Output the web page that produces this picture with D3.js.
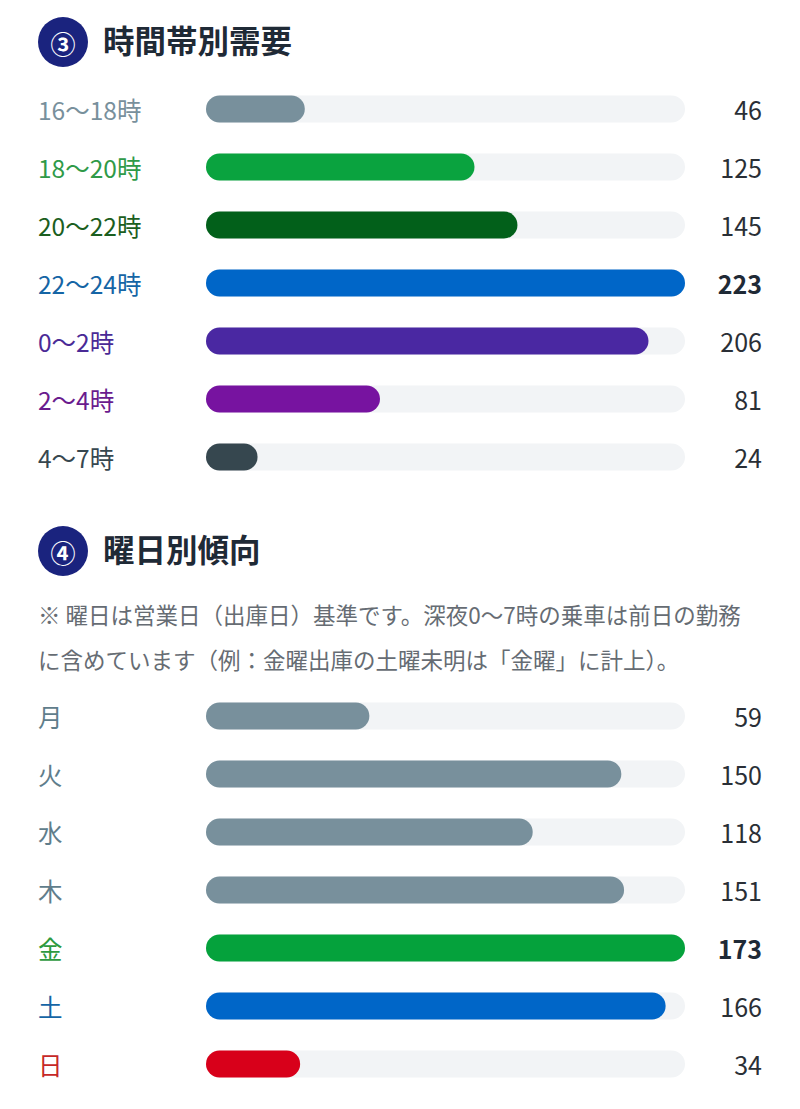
<!DOCTYPE html>
<html lang="ja">
<head>
<meta charset="utf-8">
<script src="https://cdn.jsdelivr.net/npm/d3@7"></script>
<style>
  html, body { margin: 0; padding: 0; background: #fff; }
  svg { display: block; font-family: "Noto Sans CJK JP", "Noto Sans", sans-serif; }
</style>
</head>
<body>
<svg id="chart" width="800" height="1109"></svg>
<script>
// ③ 時間帯別需要
const hourLabels = ["16〜18時", "18〜20時", "20〜22時", "22〜24時", "0〜2時", "2〜4時", "4〜7時"];
const hourValues = [46, 125, 145, 223, 206, 81, 24];
const hourBarColors = ["#78909c", "#0aa33f", "#02601a", "#0066c8", "#4a28a2", "#7713a0", "#36474f"];
const hourLabelColors = ["#78909c", "#2f9a48", "#1b5e20", "#1565a5", "#4a2a96", "#6a1b8e", "#37474f"];

// ④ 曜日別傾向
const dayLabels = ["月", "火", "水", "木", "金", "土", "日"];
const dayValues = [59, 150, 118, 151, 173, 166, 34];
const dayBarColors = ["#78909c", "#78909c", "#78909c", "#78909c", "#05a23c", "#0066c8", "#d8001a"];
const dayLabelColors = ["#607d8b", "#607d8b", "#607d8b", "#607d8b", "#2e9a40", "#1565a5", "#c62828"];

const noteLines = [
  "※ 曜日は営業日（出庫日）基準です。深夜0〜7時の乗車は前日の勤務",
  "に含めています（例：金曜出庫の土曜未明は「金曜」に計上）。"
];

const svg = d3.select("#chart");
const track = { x0: 206, x1: 685, h: 27 };
const rowStep = 58;

function heading(y, mark, title) {
  const g = svg.append("g").attr("transform", `translate(0,${y})`);
  g.append("circle").attr("cx", 63).attr("cy", 0).attr("r", 25).attr("fill", "#1a237e");
  g.append("text").attr("x", 63).attr("y", 1)
    .attr("text-anchor", "middle").attr("dominant-baseline", "central")
    .attr("fill", "#fff").attr("font-size", 25).attr("font-weight", 700)
    .text(mark);
  g.append("text").attr("x", 103).attr("y", 11)
    .attr("fill", "#1f2a36").attr("font-size", 31.5).attr("font-weight", 700)
    .text(title);
}

function barBlock(top, labels, values, barColors, labelColors) {
  const x = d3.scaleLinear().domain([0, d3.max(values)]).range([0, track.x1 - track.x0]);
  const y = d3.scalePoint().domain(labels).range([top, top + rowStep * (labels.length - 1)]);
  const maxV = d3.max(values);
  const rows = labels.map((l, i) => ({ label: l, value: values[i], bar: barColors[i], lab: labelColors[i] }));

  const g = svg.append("g");
  const row = g.selectAll("g.row").data(rows).join("g")
    .attr("class", "row")
    .attr("transform", d => `translate(0,${y(d.label)})`);

  row.append("text").attr("x", 38).attr("y", 0)
    .attr("dominant-baseline", "central")
    .attr("font-size", 24.5).attr("fill", d => d.lab)
    .text(d => d.label);

  row.append("rect")
    .attr("x", track.x0).attr("y", -track.h / 2)
    .attr("width", track.x1 - track.x0).attr("height", track.h)
    .attr("rx", track.h / 2).attr("fill", "#f2f4f6");

  row.append("rect")
    .attr("x", track.x0).attr("y", -track.h / 2)
    .attr("width", d => Math.max(x(d.value), track.h)).attr("height", track.h)
    .attr("rx", track.h / 2).attr("fill", d => d.bar);

  row.append("text").attr("x", 762).attr("y", 0)
    .attr("text-anchor", "end").attr("dominant-baseline", "central")
    .attr("font-size", 25)
    .attr("font-weight", d => d.value === maxV ? 700 : 400)
    .attr("fill", d => d.value === maxV ? "#1f2a36" : "#2a2f36")
    .text(d => d.value);
}

heading(42, "③", "時間帯別需要");
barBlock(109, hourLabels, hourValues, hourBarColors, hourLabelColors);

heading(551, "④", "曜日別傾向");
svg.append("g").selectAll("text").data(noteLines).join("text")
  .attr("x", 38).attr("y", (d, i) => 624 + i * 45)
  .attr("font-size", 22.5).attr("fill", "#666c73")
  .text(d => d);
barBlock(716, dayLabels, dayValues, dayBarColors, dayLabelColors);
</script>
</body>
</html>
